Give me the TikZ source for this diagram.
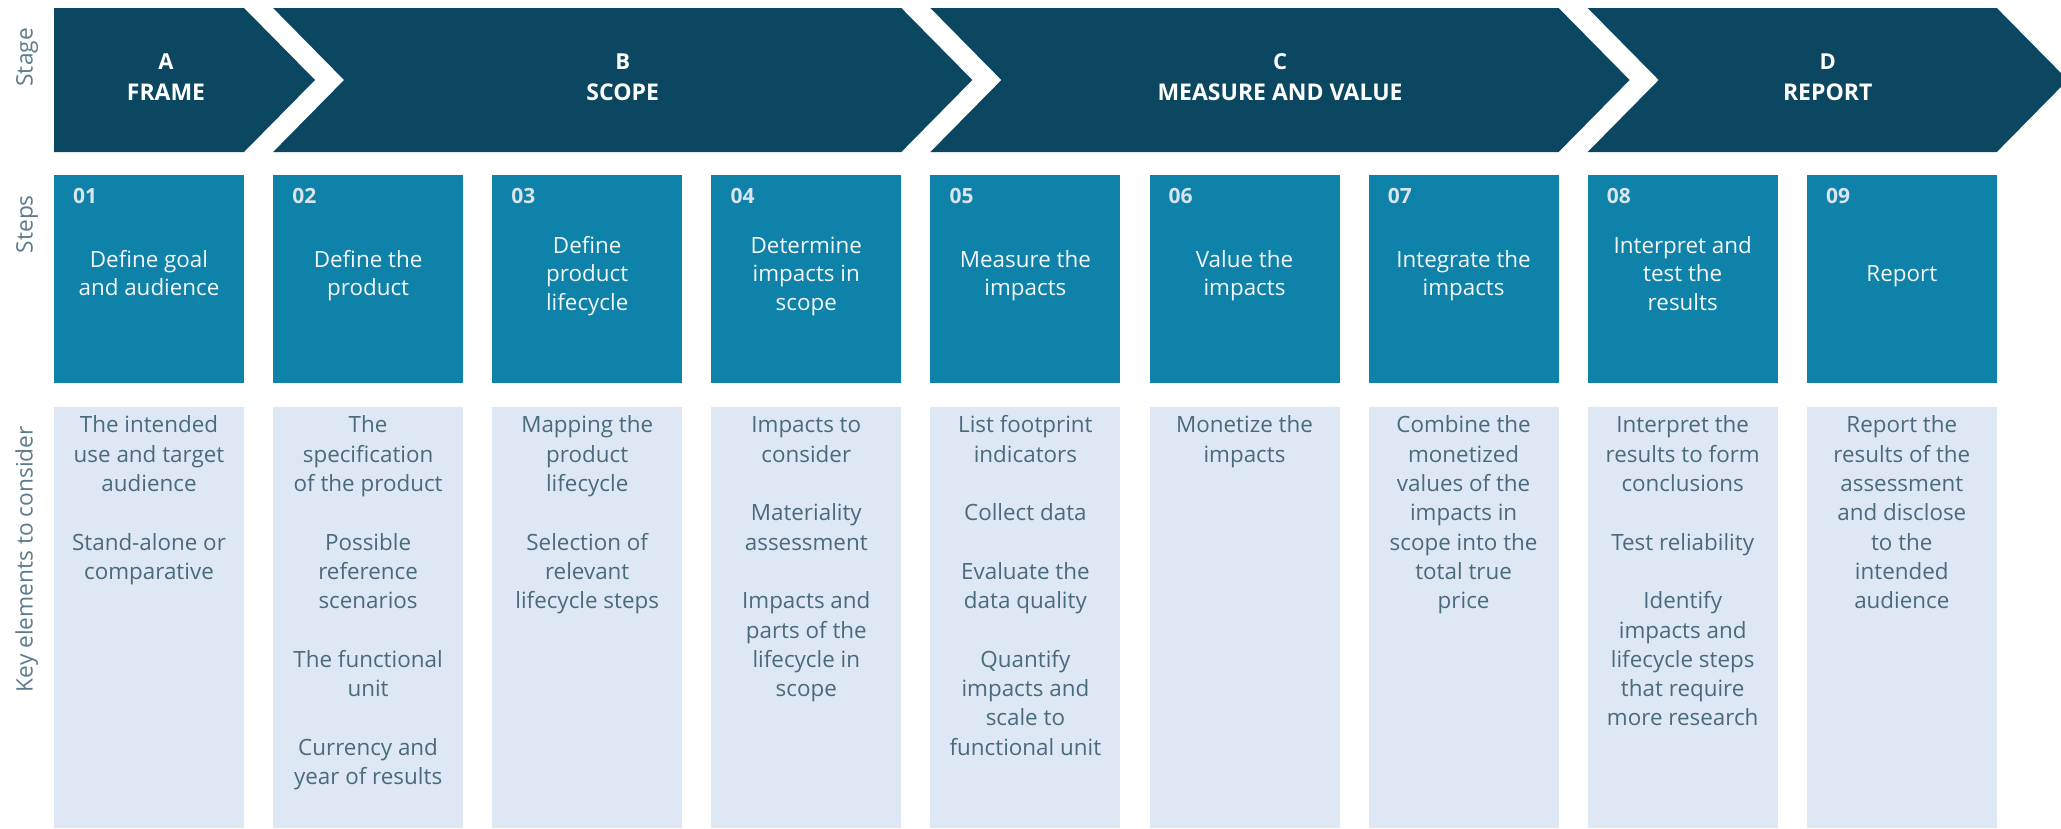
\documentclass[tikz,border=0pt]{standalone}
\usepackage{fontspec}
\setmainfont{Open Sans}
\definecolor{stagecol}{HTML}{0B4761}
\definecolor{stepcol}{HTML}{0E82A8}
\definecolor{keycol}{HTML}{DDE8F4}
\definecolor{keytext}{HTML}{4A6A7D}
\definecolor{sidetext}{HTML}{5C7B8C}
\definecolor{numcol}{HTML}{D9E5EE}
\definecolor{titlecol}{HTML}{F4F7FA}
\newcommand\kgap{29.3pt}
% #1 index, #2 step title, #3 key elements
\newcommand\mkcol[3]{%
 \pgfmathsetmacro\colL{54+219.1*(#1-1)}%
 \pgfmathsetmacro\colC{\colL+95}%
 \node[stepbox,anchor=north west] (s#1) at (\colL,175) {};
 \node[numtxt,anchor=base west] (n#1) at (\colL+19,203) {0#1};
 \node[titletxt] (t#1) at (\colC,276) {\strut#2\strut};
 \node[keybox,anchor=north west] (k#1) at (\colL,407) {};
 \node[keytxt,anchor=north] (e#1) at (\colC,412.2) {\strut#3};
}
\begin{document}
\begin{tikzpicture}[x=1pt,y=-1pt,
  stageshape/.style={fill=stagecol},
  stageletter/.style={text=white,inner sep=0,anchor=base,font=\bfseries\fontsize{22}{28}\selectfont},
  stagename/.style={text=white,inner sep=0,anchor=base,font=\bfseries\fontsize{23}{28}\selectfont},
  stepbox/.style={fill=stepcol,draw=none,inner sep=0,outer sep=0,minimum width=190pt,minimum height=208pt},
  keybox/.style={fill=keycol,draw=none,inner sep=0,outer sep=0,minimum width=190pt,minimum height=421pt},
  numtxt/.style={text=numcol,inner sep=0,font=\bfseries\fontsize{21}{25}\selectfont},
  titletxt/.style={text=titlecol,inner sep=0,align=center,font=\fontsize{22.4}{28.5}\selectfont},
  keytxt/.style={text=keytext,inner sep=0,align=center,font=\fontsize{22.4}{29.3}\selectfont},
  sidelabel/.style={text=sidetext,inner sep=0,rotate=90,anchor=base east,font=\fontsize{22.7}{27}\selectfont}
]
\useasboundingbox (0,0) rectangle (2061,828);
\fill[white] (0,0) rectangle (2061,828);
\begin{scope}
\clip (0,0) rectangle (2061,828);
\fill[stageshape] (54,8) -- (244,8) -- (315,80) -- (244,152) -- (54,152) -- cycle;
\fill[stageshape] (273.1,8) -- (901.3,8) -- (972.3,80) -- (901.3,152) -- (273.1,152) -- (344.1,80) -- cycle;
\fill[stageshape] (930.4,8) -- (1558.6,8) -- (1629.6,80) -- (1558.6,152) -- (930.4,152) -- (1001.4,80) -- cycle;
\fill[stageshape] (1587.7,8) -- (1996.8,8) -- (2067.8,80) -- (1996.8,152) -- (1587.7,152) -- (1658.7,80) -- cycle;
\end{scope}
\node[stageletter] (lA) at (166,69) {A};
\node[stagename] (nA) at (166,100) {FRAME};
\node[stageletter] (lB) at (622.7,69) {B};
\node[stagename] (nB) at (622.7,100) {SCOPE};
\node[stageletter] (lC) at (1280,69) {C};
\node[stagename] (nC) at (1280,100) {MEASURE AND VALUE};
\node[stageletter] (lD) at (1827.7,69) {D};
\node[stagename] (nD) at (1827.7,100) {REPORT};
\node[sidelabel] (sideA) at (32.5,28) {Stage};
\node[sidelabel] (sideB) at (32.5,195) {Steps};
\node[sidelabel] (sideC) at (32.5,426) {Key elements to consider};
\mkcol{1}{Define goal\\and audience}{The intended\\use and target\\audience\\[\kgap]Stand-alone or\\comparative}
\mkcol{2}{Define the\\product}{The\\specification\\of the product\\[\kgap]Possible\\reference\\scenarios\\[\kgap]The functional\\unit\\[\kgap]Currency and\\year of results}
\mkcol{3}{Define\\product\\lifecycle}{Mapping the\\product\\lifecycle\\[\kgap]Selection of\\relevant\\lifecycle steps}
\mkcol{4}{Determine\\impacts in\\scope}{Impacts to\\consider\\[\kgap]Materiality\\assessment\\[\kgap]Impacts and\\parts of the\\lifecycle in\\scope}
\mkcol{5}{Measure the\\impacts}{List footprint\\indicators\\[\kgap]Collect data\\[\kgap]Evaluate the\\data quality\\[\kgap]Quantify\\impacts and\\scale to\\functional unit}
\mkcol{6}{Value the\\impacts}{Monetize the\\impacts}
\mkcol{7}{Integrate the\\impacts}{Combine the\\monetized\\values of the\\impacts in\\scope into the\\total true\\price}
\mkcol{8}{Interpret and\\test the\\results}{Interpret the\\results to form\\conclusions\\[\kgap]Test reliability\\[\kgap]Identify\\impacts and\\lifecycle steps\\that require\\more research}
\mkcol{9}{Report}{Report the\\results of the\\assessment\\and disclose\\to the\\intended\\audience}
\end{tikzpicture}
\end{document}
